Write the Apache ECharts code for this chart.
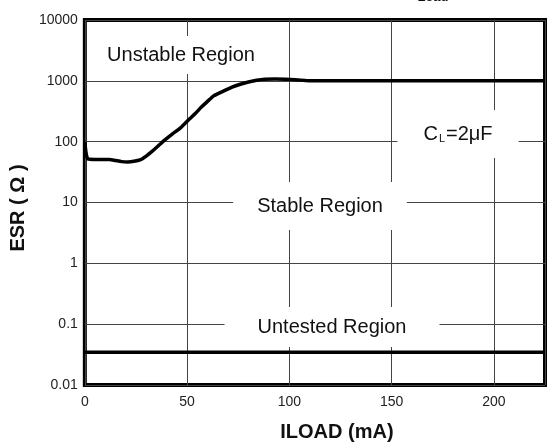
<!DOCTYPE html>
<html>
<head>
<meta charset="utf-8">
<script src="https://cdn.jsdelivr.net/npm/echarts@6/dist/echarts.min.js"></script>
<style>
html,body{margin:0;padding:0;background:#fff;}
#chart{width:550px;height:447px;}
</style>
</head>
<body>
<div id="chart"></div>
<script>
// ---- data ----
const xRange = [0, 225];
const xTickStep = 50;
const yRange = [0.01, 10000];
const yTickLabels = ['0.01', '0.1', '1', '10', '100', '1000', '10000'];
const iload = [0, 0.3, 0.8, 1.5, 5, 12, 15, 18, 21, 24, 27, 30, 33, 36, 39, 43, 47, 51, 54, 57, 60, 63, 67, 72, 76, 80, 84, 88, 93, 98, 103, 108, 113, 225];
const esr   = [100, 78, 60, 52, 51, 51, 49, 47, 46.5, 47.5, 50, 58, 70, 86, 106, 135, 171, 233, 290, 370, 460, 565, 660, 790, 880, 955, 1020, 1060, 1070, 1060, 1040, 1015, 1000, 1000];
const untestedLimitX = [0, 225];
const untestedLimitY = [0.0345, 0.0345];
const xAxisTitle = 'ILOAD (mA)';
const yAxisTitle = 'ESR ( \u03A9 )';

const curve = iload.map((x, i) => [x, esr[i]]);
const limit = untestedLimitX.map((x, i) => [x, untestedLimitY[i]]);

const font = '"Liberation Sans", Arial, Helvetica, sans-serif';
const chart = echarts.init(document.getElementById('chart'), null, {renderer: 'canvas'});

function boxText(text, x, y, pad, rich) {
  return {
    type: 'text', x: x, y: y, z: 10,
    style: {
      text: text, fill: '#111', font: '20px ' + font,
      fontFamily: font, fontSize: 20,
      align: 'center', verticalAlign: 'middle',
      backgroundColor: '#fff', padding: pad,
      rich: rich || {}
    }
  };
}

chart.setOption({
  animation: false,
  backgroundColor: '#fff',
  grid: {
    left: 84, top: 20, width: 461, height: 366,
    show: true, borderColor: '#000', borderWidth: 4, backgroundColor: 'transparent'
  },
  xAxis: {
    type: 'value', min: xRange[0], max: xRange[1], interval: xTickStep,
    name: xAxisTitle, nameLocation: 'middle', nameGap: 37,
    nameTextStyle: {fontFamily: font, fontSize: 20, fontWeight: 'bold', color: '#111', padding: [0, 0, 0, 44]},
    axisLine: {show: false}, axisTick: {show: false},
    axisLabel: {fontFamily: font, fontSize: 14, color: '#222', margin: 10, showMaxLabel: false},
    splitLine: {show: true, lineStyle: {color: '#444', width: 1}}
  },
  yAxis: {
    type: 'log', logBase: 10, min: yRange[0], max: yRange[1], splitNumber: 6,
    name: yAxisTitle, nameLocation: 'middle', nameGap: 50, nameRotate: 90,
    nameTextStyle: {fontFamily: font, fontSize: 20, fontWeight: 'bold', color: '#111', padding: [0, 11, 0, 0]},
    axisLine: {show: false}, axisTick: {show: false},
    axisLabel: {
      fontFamily: font, fontSize: 14, color: '#222', margin: 7,
      formatter: function (v) { return yTickLabels[Math.round(Math.log10(v) - Math.log10(yRange[0]))]; }
    },
    splitLine: {show: true, lineStyle: {color: '#444', width: 1}}
  },
  series: [
    {
      type: 'line', data: curve, symbol: 'none', smooth: 0.2, z: 5,
      lineStyle: {color: '#000', width: 3.5}
    },
    {
      type: 'line', data: limit, symbol: 'none', z: 5,
      lineStyle: {color: '#000', width: 3.5}
    }
  ],
  graphic: [
    boxText('Unstable Region', 181, 55, [9, 10]),
    boxText('Stable Region', 320, 206, [14, 24]),
    boxText('Untested Region', 332, 327, [10, 33]),
    boxText('{c|C}{s|L}{c|=2\u03BCF}', 458, 134, [14, 26], {
      c: {fontFamily: font, fontSize: 20, color: '#111'},
      s: {fontFamily: font, fontSize: 11, color: '#111', verticalAlign: 'bottom', padding: [9, 1, 0, 1]}
    }),
    {
      type: 'text', x: 433, y: 4, z: 10,
      style: {text: 'Load', fill: '#111', font: 'bold 13px ' + font, align: 'center', verticalAlign: 'bottom'}
    }
  ]
});
</script>
</body>
</html>
